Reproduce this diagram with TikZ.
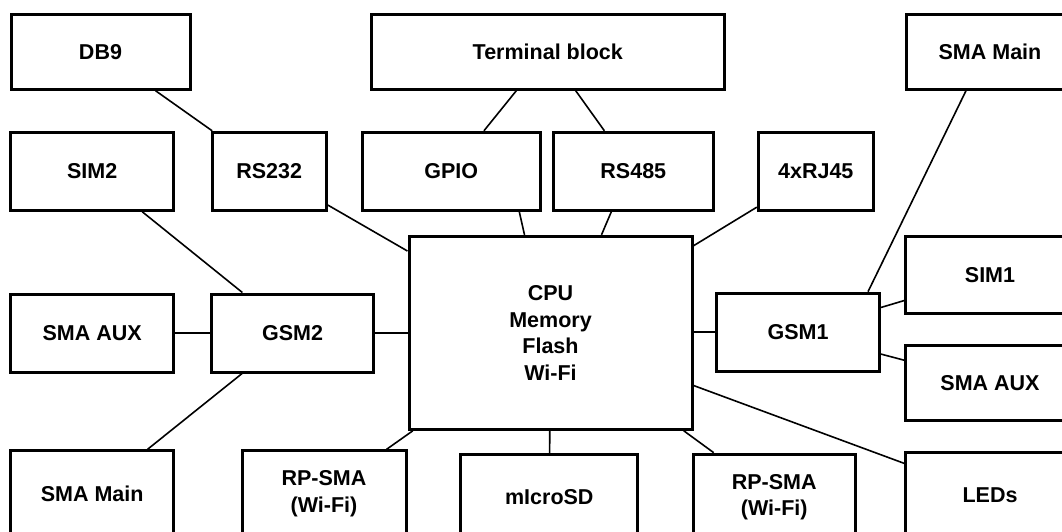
\documentclass[tikz,border=0pt]{standalone}
\usepackage{fontspec}
\setmainfont{Liberation Sans}
\begin{document}
\begin{tikzpicture}[x=1pt,y=-1pt,
  blk/.style={draw,line width=3pt,inner sep=0pt,align=center,
    font=\bfseries\fontsize{21.5}{26.5}\selectfont},
  wire/.style={line width=1.6pt}]
\useasboundingbox (0,0) rectangle (1062,531);
\clip (0,0) rectangle (1062,531);
\fill[white] (0,0) rectangle (1062,531);
% top row
\node[blk,minimum width=179,minimum height=75] (db9) at (100.5,51.7) {DB9};
\node[blk,minimum width=353,minimum height=75] (term) at (547.8,51.7) {Terminal block};
\node[blk,minimum width=168,minimum height=75] (smamainr) at (990,51.7) {SMA Main};
% second row
\node[blk,minimum width=163,minimum height=78] (sim2) at (92.2,171.3) {SIM2};
\node[blk,minimum width=114,minimum height=78] (rs232) at (269.2,171.3) {RS232};
\node[blk,minimum width=178,minimum height=78] (gpio) at (451.3,171.3) {GPIO};
\node[blk,minimum width=160,minimum height=78] (rs485) at (633.3,171.3) {RS485};
\node[blk,minimum width=115,minimum height=78] (rj45) at (815.8,171.3) {4xRJ45};
% middle
\node[blk,minimum width=283,minimum height=193] (cpu) at (550.5,332.8) {CPU\\Memory\\Flash\\Wi-Fi};
\node[blk,minimum width=169,minimum height=77] (sim1) at (990,275) {SIM1};
\node[blk,minimum width=163,minimum height=78] (smaauxl) at (92.2,333) {SMA AUX};
\node[blk,minimum width=162,minimum height=78] (gsm2) at (292.5,333) {GSM2};
\node[blk,minimum width=163,minimum height=78] (gsm1) at (798,332.2) {GSM1};
\node[blk,minimum width=169,minimum height=75] (smaauxr) at (990,382.8) {SMA AUX};
% bottom row
\node[blk,minimum width=163,minimum height=86] (smamainl) at (92.2,493.8) {SMA Main};
\node[blk,minimum width=164,minimum height=86] (rpsmal) at (324,493.8) {RP-SMA\\(Wi-Fi)};
\node[blk,minimum width=177,minimum height=86] (microsd) at (549.3,497.5) {mIcroSD};
\node[blk,minimum width=162,minimum height=86] (rpsmar) at (774.2,497.2) {RP-SMA\\(Wi-Fi)};
\node[blk,minimum width=169,minimum height=86] (leds) at (990,495) {LEDs};
% links
\draw[wire] (db9) -- (rs232);
\draw[wire] (term) -- (gpio);
\draw[wire] (term) -- (rs485);
\draw[wire] (sim2) -- (gsm2);
\draw[wire] (rs232) -- (cpu);
\draw[wire] ([xshift=68pt]gpio.south) -- ([xshift=-26pt]cpu.north);
\draw[wire] ([xshift=-22pt]rs485.south) -- ([xshift=51pt]cpu.north);
\draw[wire] (rj45) -- (cpu);
\draw[wire] ([xshift=-24pt]smamainr.south) -- ([xshift=70pt]gsm1.north);
\draw[wire] (smaauxl) -- (gsm2);
\draw[wire] (gsm2) -- (cpu.west |- gsm2);
\draw[wire] (gsm2) -- (smamainl);
\draw[wire] (cpu.east |- gsm1) -- (gsm1);
\draw[wire] (gsm1) -- (sim1);
\draw[wire] (gsm1) -- (smaauxr);
\draw[wire] (cpu) -- (leds);
\draw[wire] (cpu) -- (rpsmal);
\draw[wire] (cpu) -- (microsd);
\draw[wire] (cpu) -- (rpsmar);
\end{tikzpicture}
\end{document}
